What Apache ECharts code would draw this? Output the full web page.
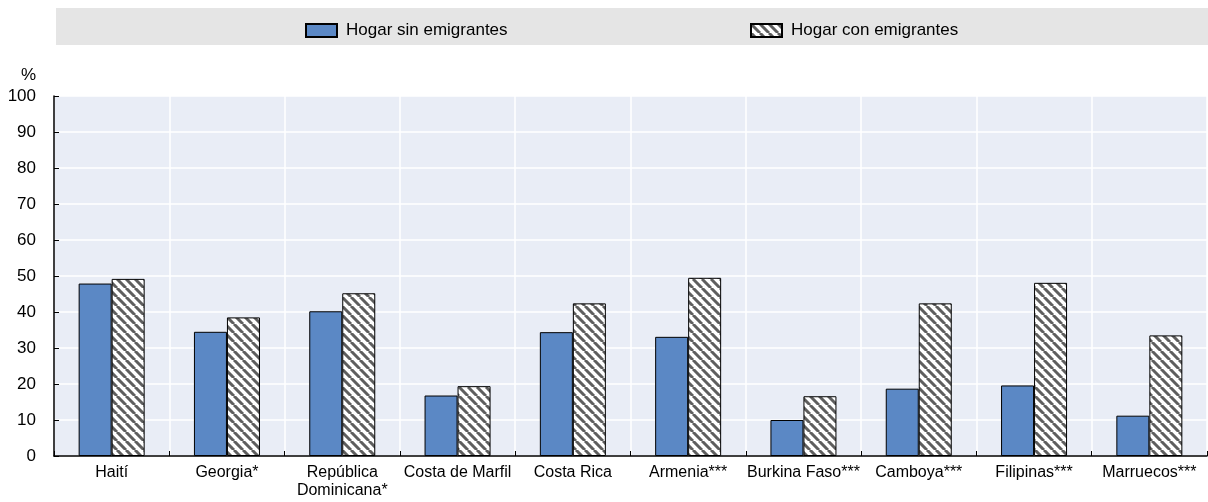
<!DOCTYPE html>
<html><head><meta charset="utf-8">
<script src="https://cdn.jsdelivr.net/npm/echarts@6/dist/echarts.min.js"></script>
<style>html,body{margin:0;padding:0;background:#fff}#c{width:1208px;height:502px}</style>
</head><body><div id="c"></div>
<script>
const categories = ['Haití','Georgia*','República\nDominicana*','Costa de Marfil','Costa Rica','Armenia***','Burkina Faso***','Camboya***','Filipinas***','Marruecos***'];
const sinEmigrantes = [47.9, 34.5, 40.2, 16.8, 34.4, 33.1, 10.0, 18.7, 19.6, 11.2];
const conEmigrantes = [49.2, 38.5, 45.2, 19.4, 42.4, 49.5, 16.6, 42.4, 48.1, 33.5];
const yTicks = [0,10,20,30,40,50,60,70,80,90,100];

function hatch(){
  const s = 9;
  const c = document.createElement('canvas');
  c.width = s; c.height = s;
  const g = c.getContext('2d');
  g.fillStyle = '#ffffff'; g.fillRect(0,0,s,s);
  g.strokeStyle = '#5e5e5e'; g.lineWidth = 3;
  g.beginPath();
  for (let k=-1;k<=1;k++){ g.moveTo(k*s, 0); g.lineTo(k*s+s, s); }
  g.stroke();
  return c;
}
const pat = {image: hatch(), repeat: 'repeat'};
const FONT = 'Liberation Sans';
const FS = 17;
const chart = echarts.init(document.getElementById('c'), null, {renderer:'canvas'});
chart.setOption({
  animation: false,
  textStyle: {fontFamily: FONT},
  graphic: [{type:'rect', left:56, top:8, shape:{width:1152, height:37}, style:{fill:'#e5e5e5'}, z:-1}],
  legend: [
    {left: 300, top: 17, itemWidth: 31, itemHeight: 13, icon: 'rect', data:['Hogar sin emigrantes'],
     textStyle:{fontFamily:FONT, fontSize:FS, color:'#000', padding:[0,0,0,4]}, itemGap: 0},
    {left: 745, top: 17, itemWidth: 31, itemHeight: 13, icon: 'rect', data:['Hogar con emigrantes'],
     textStyle:{fontFamily:FONT, fontSize:FS, color:'#000', padding:[0,0,0,4]}, itemGap: 0}
  ],
  grid: {left: 54, right: 1, top: 96, bottom: 46, backgroundColor: '#e9edf6', show: true, borderWidth: 0},
  xAxis: {
    type: 'category', data: categories,
    axisLine: {lineStyle: {color:'#000', width: 1.5}},
    axisTick: {show: true, length: 5, inside: true, lineStyle:{color:'#000'}},
    axisLabel: {color:'#000', fontSize: 16, fontFamily: FONT, margin: 8, interval: 0, lineHeight: 18},
    splitLine: {show: true, lineStyle: {color:'#ffffff', width: 1.5}}
  },
  yAxis: {
    type: 'value', min: 0, max: 100, interval: 10,
    name: '%', nameLocation: 'end', nameGap: 12,
    nameTextStyle: {color:'#000', fontSize: FS, fontFamily: FONT, align: 'right', padding: [0, 18, 0, 0]},
    axisLine: {show: true, lineStyle: {color:'#000', width: 1.5}},
    axisTick: {show: true, inside: true, length: 5, lineStyle:{color:'#000'}},
    axisLabel: {color:'#000', fontSize: FS, fontFamily: FONT, margin: 18,
      formatter: v => yTicks.includes(v) ? String(v) : ''},
    splitLine: {show: true, lineStyle: {color:'#ffffff', width: 1.5}}
  },
  series: [
    {name:'Hogar sin emigrantes', type:'bar', data: sinEmigrantes, barWidth: 33, barGap: '0%',
     itemStyle:{color:'#5b88c5', borderColor:'#000', borderWidth: 1}},
    {name:'Hogar con emigrantes', type:'bar', data: conEmigrantes, barWidth: 33, barGap: '0%',
     itemStyle:{color: pat, borderColor:'#000', borderWidth: 1}}
  ]
});
</script></body></html>
